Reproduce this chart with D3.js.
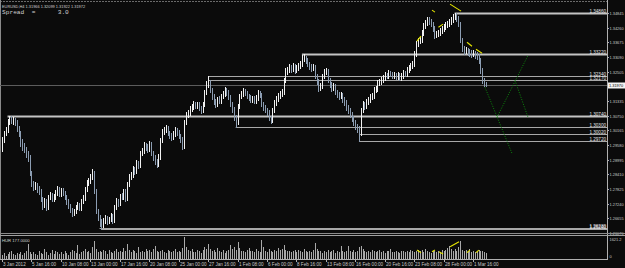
<!DOCTYPE html>
<html><head><meta charset="utf-8">
<script src="https://cdn.jsdelivr.net/npm/d3@7"></script>
<style>html,body{margin:0;padding:0;background:#0b0b0b;overflow:hidden}svg{display:block}</style>
</head><body><svg id="c" width="625" height="268"></svg>
<script>
// prices are stored as price x 10^4 (EURUSD H4)
const firstOpen = 12944;
const closes = [
12976,13004,13016,13048,13064,13056,13060,13048,13024,13004,12968,12952,12944,12924,12912,12848,
12804,12792,12800,12784,12776,12744,12720,12736,12712,12752,12760,12744,12752,12768,12784,12764,
12780,12768,12752,12736,12716,12700,12688,12696,12712,12720,12708,12736,12748,12784,12812,12816,
12832,12848,12776,12696,12672,12656,12640,12660,12668,12656,12664,12676,12660,12712,12736,12728,
12756,12752,12776,12748,12804,12832,12840,12864,12856,12888,12880,12928,12936,12956,12952,12944,
12960,12928,12912,12896,12884,12912,12976,13008,13016,13024,13004,12996,12988,13000,13016,13008,
12992,12980,12956,13048,13076,13084,13100,13108,13120,13112,13120,13104,13096,13120,13168,13196,
13208,13176,13152,13132,13120,13140,13132,13152,13160,13176,13168,13148,13120,13100,13068,13048,
13112,13152,13160,13172,13164,13152,13148,13136,13144,13132,13144,13164,13156,13120,13108,13096,
13088,13064,13056,13096,13124,13140,13152,13160,13168,13216,13252,13256,13268,13260,13272,13256,
13264,13272,13280,13304,13304,13296,13280,13272,13264,13268,13232,13212,13184,13192,13232,13248,
13252,13216,13200,13184,13192,13168,13160,13152,13156,13140,13128,13108,13096,13080,13064,13048,
13032,13024,13004,13096,13120,13112,13128,13136,13148,13152,13176,13180,13204,13208,13216,13224,
13236,13232,13244,13240,13232,13236,13228,13236,13224,13232,13244,13240,13256,13264,13272,13280,
13320,13360,13372,13376,13404,13432,13444,13456,13452,13440,13424,13396,13400,13404,13412,13420,
13428,13436,13440,13448,13456,13468,13472,13464,13440,13376,13344,13332,13336,13328,13324,13320,
13324,13316,13312,13296,13256,13216,13200,13197];
const highs = [
12988,13012,13028,13060,13072,13072,13068,13064,13056,13032,13012,12980,12964,12952,12936,12920,
12856,12816,12812,12808,12796,12784,12752,12748,12744,12760,12772,12768,12764,12780,12796,12792,
12788,12788,12776,12760,12744,12724,12708,12704,12720,12732,12728,12744,12760,12792,12820,12828,
12844,12864,12856,12784,12704,12680,12664,12668,12680,12676,12672,12688,12684,12720,12748,12744,
12764,12768,12784,12784,12812,12844,12852,12876,12872,12900,12896,12936,12948,12968,12964,12960,
12972,12968,12936,12920,12904,12924,12984,13020,13028,13036,13032,13012,13004,13012,13028,13024,
13016,13000,12988,13056,13088,13096,13112,13120,13132,13128,13128,13128,13112,13128,13176,13212,
13232,13216,13184,13160,13140,13148,13152,13160,13172,13188,13184,13176,13156,13128,13108,13076,
13120,13160,13172,13184,13180,13172,13160,13156,13152,13152,13156,13176,13172,13164,13128,13116,
13104,13096,13072,13104,13136,13152,13164,13172,13180,13224,13264,13268,13280,13276,13284,13280,
13276,13284,13292,13316,13322,13312,13304,13288,13280,13280,13276,13240,13220,13204,13240,13260,
13264,13260,13224,13208,13204,13200,13176,13168,13168,13164,13148,13136,13116,13104,13088,13072,
13056,13040,13032,13104,13132,13128,13140,13148,13160,13164,13188,13192,13216,13220,13228,13236,
13248,13244,13256,13252,13248,13248,13244,13248,13244,13244,13256,13252,13268,13276,13284,13292,
13332,13372,13384,13388,13416,13444,13456,13468,13468,13460,13448,13432,13412,13416,13424,13432,
13440,13448,13452,13460,13468,13480,13486,13484,13472,13448,13384,13352,13348,13344,13340,13336,
13336,13332,13328,13320,13304,13264,13224,13210];
const lows = [
12936,12968,12996,13008,13040,13044,13040,13036,13012,12992,12956,12940,12932,12912,12896,12840,
12796,12780,12784,12772,12764,12736,12704,12712,12700,12704,12744,12736,12736,12744,12760,12756,
12756,12760,12744,12724,12708,12692,12676,12680,12688,12704,12700,12700,12728,12740,12776,12800,
12808,12824,12768,12688,12660,12636,12624,12632,12648,12644,12648,12656,12648,12652,12704,12716,
12720,12744,12744,12736,12740,12796,12824,12832,12844,12848,12868,12872,12920,12928,12940,12932,
12936,12920,12900,12884,12872,12876,12904,12968,13000,13008,12996,12984,12976,12980,12992,12996,
12984,12968,12944,12948,13040,13068,13076,13092,13100,13104,13104,13096,13084,13088,13112,13160,
13188,13168,13140,13120,13108,13112,13124,13124,13144,13152,13156,13140,13112,13088,13056,13028,
13040,13104,13144,13152,13156,13144,13136,13128,13128,13124,13124,13136,13148,13112,13096,13088,
13076,13056,13044,13048,13088,13116,13132,13144,13152,13160,13208,13240,13248,13248,13252,13244,
13248,13256,13264,13272,13292,13284,13272,13260,13252,13256,13224,13200,13172,13176,13184,13224,
13240,13208,13188,13172,13176,13160,13148,13140,13144,13128,13116,13096,13084,13068,13052,13036,
13020,13008,12972,12996,13088,13100,13104,13120,13128,13140,13144,13168,13172,13196,13200,13208,
13216,13224,13224,13232,13224,13224,13220,13220,13216,13216,13224,13232,13232,13248,13256,13264,
13272,13312,13352,13364,13368,13396,13424,13436,13440,13432,13412,13384,13388,13392,13396,13404,
13412,13420,13428,13432,13440,13448,13460,13452,13432,13368,13332,13320,13324,13316,13312,13308,
13312,13304,13300,13284,13244,13204,13192,13192];
const volumes = [
300,420,250,380,520,610,350,280,460,390,540,300,450,620,1110,480,
350,520,400,300,580,460,380,720,530,310,440,650,400,560,480,360,
520,380,600,450,330,480,700,560,420,1040,380,500,620,740,480,560,
420,880,1330,760,540,620,480,700,560,380,640,500,420,580,760,520,
600,480,820,560,1110,640,480,700,560,420,860,520,600,480,720,560,
640,520,760,940,580,480,620,700,520,440,660,560,480,600,720,540,
620,480,840,1621,900,640,560,720,480,520,660,580,460,700,880,760,
1110,720,560,640,480,800,620,540,700,460,580,660,1040,720,900,640,
1230,780,560,620,480,700,820,560,600,480,740,620,540,1400,860,620,
540,720,600,480,660,560,800,640,720,1040,700,560,620,480,580,640,
520,700,560,480,760,620,540,600,480,680,1180,740,560,620,460,580,
520,640,480,560,700,440,620,520,940,600,480,560,940,620,540,700,
480,560,880,990,720,560,480,620,540,700,600,480,560,640,520,600,
460,560,620,740,520,480,600,540,460,620,560,480,600,520,700,560,
480,620,690,560,640,480,740,600,520,460,600,560,480,620,540,700,
560,640,800,990,720,600,760,560,880,1330,700,600,640,560,740,520,
600,480,560,670,560,620,480,420];

const dateLabels = ["3 Jan 2012","5 Jan 16:00","10 Jan 08:00","13 Jan 00:00","17 Jan 16:00","20 Jan 08:00","25 Jan 00:00","27 Jan 16:00","1 Feb 08:00","6 Feb 00:00","8 Feb 16:00","13 Feb 08:00","16 Feb 00:00","20 Feb 16:00","23 Feb 08:00","28 Feb 00:00","1 Mar 16:00"];
const dateBars = [0,16,32,48,64,80,96,112,128,144,160,176,192,208,224,240,256];
const priceTicks = ["1.34845","1.34260","1.33675","1.33090","1.32505","1.31920","1.31335","1.30750","1.30165","1.29580","1.28995","1.28410","1.27825","1.27240","1.26655","1.26070"];
const levelValues = [13486,13322,13234,13217,13074,13030,13002,12972,12628,12624];
const levelFromBar = [246,163,112,112,3,127,194,194,53,54];
const levelTexts = ["1.34860","1.33220","1.32340","1.32170","1.30740","1.30300","1.30020","1.29720","1.26280","1.26240"];
const levelBold = [true,true,false,false,true,false,false,false,false,false];
const lastPrice = 13197;
const headerText = "EURUSD,H4  1.31966 1.32099 1.31922 1.31972";
const spreadText = "Spread  =      3.0";
const volName = "HUR 177.0000";
const volMax = 1621.2;
// trend lines: [bar1, price1, bar2, price2]
const yellowLines = [[225.5,13372,227.7,13392],[233.7,13496,235.3,13488],[237.2,13428,239.7,13440],[243.5,13520,249.5,13492],[252.7,13368,255.4,13352],[257.6,13340,260.9,13324]];
const greenLines = [[262.5,13188,277.2,12924],[269,13068,285.9,13316],[278.8,13216,285.9,13068]];
const volYellow = [[225.5,660,227.7,465],[233.7,540,235.3,660],[237.5,540,239.7,370],[243.5,900,248.4,1270],[252.7,465,254.3,660],[257.6,465,259.2,660]];

const svg = d3.select("#c");
const AX = 607;
const x = d3.scaleLinear().domain([0,330]).range([2,609.2]);
const y = d3.scaleLinear().domain([12607,13484.5]).range([233,13]);
const yv = d3.scaleLinear().domain([0,volMax]).range([259,237]);
const px = v => Math.round(x(v)) + 0.5;
const font = "'Liberation Sans', Arial, sans-serif";
const AFS = 3.9; // axis label font size (fits the narrow right margin)

svg.append("rect").attr("width",625).attr("height",268).attr("fill","#0b0b0b");

// top border
svg.append("line").attr("x1",0).attr("x2",AX).attr("y1",1.5).attr("y2",1.5).attr("stroke","#6a6a6a").attr("stroke-dasharray","2,1");
svg.append("line").attr("x1",0.5).attr("x2",0.5).attr("y1",0).attr("y2",260).attr("stroke","#8a8a8a");

// level lines
const lv = svg.append("g");
levelValues.forEach((v,k)=>{
  const yy = Math.round(y(v)) + 0.5;
  lv.append("line").attr("x1",x(levelFromBar[k])).attr("x2",AX).attr("y1",yy).attr("y2",yy)
    .attr("stroke", levelBold[k] ? "#c4c4c4" : "#a8a8a8").attr("stroke-width", levelBold[k] ? 2 : 1);
  lv.append("text").attr("x",AX-1).attr("y",yy-0.6).attr("text-anchor","end")
    .attr("font-family",font).attr("font-size",4.6).attr("fill","#e6e6e6").text(levelTexts[k]);
});
// current price line
const cy = Math.round(y(lastPrice)) + 0.5;
svg.append("line").attr("x1",0).attr("x2",AX).attr("y1",cy).attr("y2",cy).attr("stroke","#5c5c5c");

// candles (bars)
const bars = svg.append("g").attr("shape-rendering","crispEdges");
closes.forEach((c,i)=>{
  const prev = i===0 ? firstOpen : closes[i-1];
  bars.append("line").attr("x1",px(i)).attr("x2",px(i))
    .attr("y1",y(highs[i])).attr("y2",y(lows[i])+1)
    .attr("stroke", c >= prev ? "#f2f2f2" : "#8c9db2").attr("stroke-width",1);
});

// trend lines
yellowLines.forEach(s=>{
  svg.append("line").attr("x1",x(s[0])).attr("y1",y(s[1])).attr("x2",x(s[2])).attr("y2",y(s[3]))
    .attr("stroke","#e6e600").attr("stroke-width",1.1);
});
greenLines.forEach(s=>{
  svg.append("line").attr("x1",x(s[0])).attr("y1",y(s[1])).attr("x2",x(s[2])).attr("y2",y(s[3]))
    .attr("stroke","#0c8a0c").attr("stroke-width",1).attr("stroke-dasharray","1,1.5");
});

// header
svg.append("text").attr("x",2).attr("y",7.5).attr("font-family",font).attr("font-size",3.9).attr("fill","#d0d0d0").text(headerText);
svg.append("text").attr("x",2).attr("y",13.5).attr("font-family","'Liberation Mono', 'DejaVu Sans Mono', monospace").attr("font-size",6.2).attr("fill","#d0d0d0").style("white-space","pre").text(spreadText);

// price axis
svg.append("line").attr("x1",AX+0.5).attr("x2",AX+0.5).attr("y1",0).attr("y2",260).attr("stroke","#b0b0b0");
const axG = svg.append("g");
priceTicks.forEach(t=>{
  const yy = Math.round(y(+t*10000)) + 0.5;
  axG.append("line").attr("x1",AX).attr("x2",AX+2).attr("y1",yy).attr("y2",yy).attr("stroke","#b0b0b0");
  axG.append("text").attr("x",AX+2.5).attr("y",yy).attr("dy","0.35em").attr("font-family",font).attr("font-size",AFS)
    .attr("fill","#c8c8c8").text(t);
});
// current price box
svg.append("rect").attr("x",AX+1).attr("y",cy-3).attr("width",17).attr("height",6).attr("fill","#f4f4f4");
svg.append("text").attr("x",AX+2).attr("y",cy).attr("dy","0.35em").attr("font-family",font).attr("font-size",AFS)
  .attr("fill","#000").text((lastPrice/10000).toFixed(5));

// window separator
svg.append("line").attr("x1",0).attr("x2",625).attr("y1",233.5).attr("y2",233.5).attr("stroke","#8a8a8a");
svg.append("line").attr("x1",0).attr("x2",625).attr("y1",235.5).attr("y2",235.5).attr("stroke","#a0a0a0");

// volumes
const vg = svg.append("g").attr("shape-rendering","crispEdges");
volumes.forEach((v,i)=>{
  vg.append("line").attr("x1",px(i)).attr("x2",px(i)).attr("y1",yv(v)).attr("y2",yv(0))
    .attr("stroke","#a9a9a9");
});
volYellow.forEach(s=>{
  svg.append("line").attr("x1",x(s[0])).attr("y1",yv(s[1])).attr("x2",x(s[2])).attr("y2",yv(s[3]))
    .attr("stroke","#e6e600").attr("stroke-width",1.1);
});
svg.append("text").attr("x",2).attr("y",241.5).attr("font-family",font).attr("font-size",4.2).attr("fill","#d0d0d0").text(volName);
svg.append("text").attr("x",AX+2.5).attr("y",240).attr("dy","0.35em").attr("font-family",font).attr("font-size",AFS)
  .attr("fill","#c8c8c8").text(volMax.toFixed(1));
svg.append("text").attr("x",AX+2.5).attr("y",257).attr("dy","0.35em").attr("font-family",font).attr("font-size",AFS).attr("fill","#c8c8c8").text("0");

// bottom axis
svg.append("line").attr("x1",0).attr("x2",AX+1).attr("y1",259.5).attr("y2",259.5).attr("stroke","#b0b0b0");
dateBars.forEach((b,k)=>{
  const xx = px(b);
  svg.append("line").attr("x1",xx).attr("x2",xx).attr("y1",259).attr("y2",262).attr("stroke","#b0b0b0");
  svg.append("text").attr("x",xx+0.5).attr("y",266).attr("font-family",font).attr("font-size",4.6).attr("fill","#c8c8c8").text(dateLabels[k]);
});
</script>
</body></html>
